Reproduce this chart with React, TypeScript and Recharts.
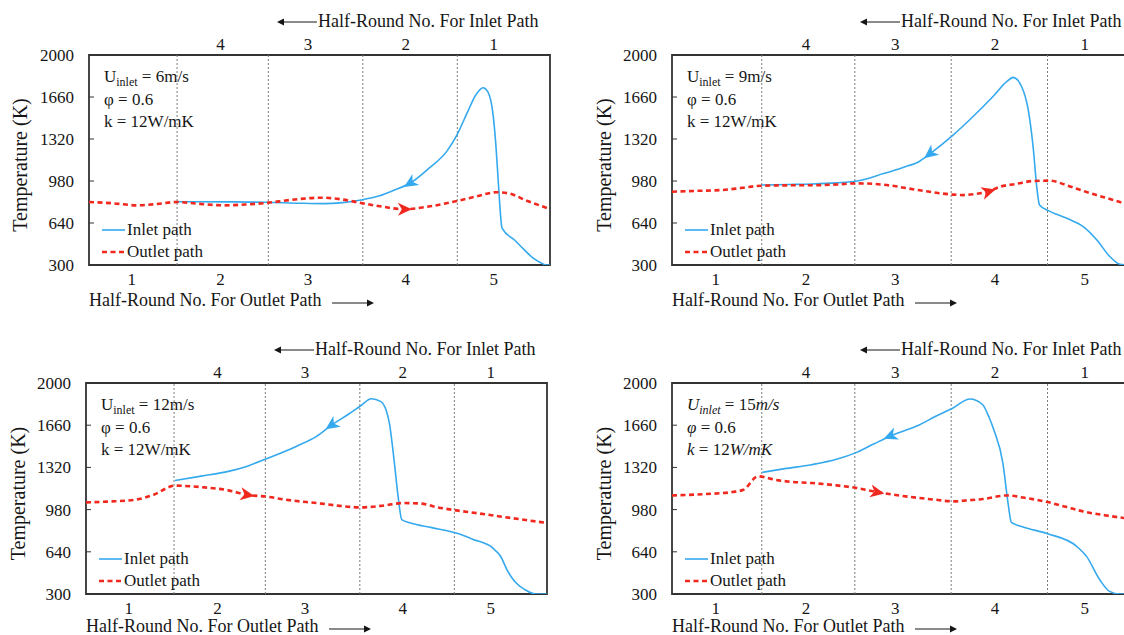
import React from 'react';
import { LineChart, Line, XAxis, YAxis, ReferenceLine, ReferenceArea, Legend } from 'recharts';

const FONT = "'Liberation Serif', 'Times New Roman', serif";
const BLUE = '#35a9ee';
const RED = '#f0281e';
const INK = '#161616';

// x is the position along the channel, 0..100 % of the plot width
const yTicks = [300, 640, 980, 1320, 1660, 2000];
const dividers = [19.1, 38.9, 59.4, 79.9];
const outletTicks = [9.3, 28.5, 47.5, 68.7, 87.8];
const outletLabels = ['1', '2', '3', '4', '5'];
const inletTicks = [28.5, 47.5, 68.7, 87.8];
const inletLabels = ['4', '3', '2', '1'];

// U = 6 m/s
const inlet6 = [
  [19.1, 812], [24, 812], [30, 811], [38.4, 808], [45.8, 800], [51, 797], [55, 805], [59, 826],
  [63, 860], [66, 903], [69.8, 966], [73.7, 1082], [77.6, 1220], [79.8, 1352], [82.2, 1545],
  [83.8, 1670], [85.5, 1735], [86.5, 1703], [87.7, 1501], [88.3, 1250], [88.8, 964], [89.6, 599],
  [92.3, 502], [94.5, 420], [96.3, 357], [98, 318], [99.3, 300], [100, 300],
];
const outlet6 = [
  [0, 810], [5, 800], [10.5, 783], [15, 795], [19.1, 810], [24, 795], [29, 783], [34, 790],
  [38.4, 802], [44, 828], [50.4, 845], [55, 830], [59, 802], [64, 770], [68.3, 751], [74, 775],
  [79.8, 818], [84, 855], [88.4, 889], [91, 880], [95, 820], [100, 753],
];

// U = 9 m/s
const inlet9 = [
  [19, 948], [25, 952], [29.7, 956], [35, 965], [39.4, 980], [45, 1040], [49, 1088], [52.7, 1140],
  [55, 1204], [59.8, 1352], [63.4, 1478], [68.4, 1668], [71.2, 1784], [72.6, 1819], [74.4, 1743],
  [75.8, 1555], [76.9, 1231], [77.6, 934], [78.2, 786], [80.1, 740], [84, 678], [87.5, 610],
  [90.4, 502], [93.2, 367], [95.3, 306], [97, 300], [100, 300],
];
const outlet9 = [
  [0, 893], [5, 900], [10.6, 907], [15, 925], [19, 942], [25, 945], [29.7, 945], [35, 952],
  [39.4, 961], [45, 950], [52.7, 905], [59.8, 870], [62, 866], [64.5, 875], [67.2, 893],
  [69.8, 934], [73, 955], [76.9, 980], [80.4, 983], [84, 945], [87.5, 900], [90, 870],
  [93.2, 834], [96.2, 800], [100, 775],
];

// U = 12 m/s
const inlet12 = [
  [19.3, 1215], [25, 1250], [30.9, 1288], [35, 1330], [39, 1388], [45.6, 1489], [50, 1570],
  [53.4, 1664], [57, 1750], [59.6, 1817], [61.9, 1873], [63.9, 1852], [65.2, 1770], [65.8, 1678],
  [66.9, 1355], [67.7, 1086], [68.5, 899], [70.4, 872], [75, 835], [80.3, 791], [84, 740],
  [88.2, 671], [90, 600], [91.3, 496], [93, 400], [95.2, 335], [97.5, 300], [100, 300],
];
const outlet12 = [
  [0, 1038], [5, 1045], [10.8, 1060], [14.7, 1100], [19.3, 1173], [24.7, 1162], [30.9, 1135],
  [34.8, 1100], [39, 1085], [43.3, 1060], [51.1, 1028], [55, 1010], [59.6, 998], [64, 1010],
  [68.9, 1033], [72.8, 1028], [76, 1000], [80.3, 974], [85, 950], [89.8, 925], [95, 898], [100, 872],
];

// U = 15 m/s
const inlet15 = [
  [19.2, 1280], [24, 1310], [29.7, 1342], [35, 1385], [39.3, 1441], [43, 1510], [46.6, 1575],
  [52.7, 1664], [56, 1730], [59.8, 1799], [63.4, 1871], [66.1, 1825], [67.5, 1720], [68.5, 1620],
  [70.4, 1355], [71.5, 1033], [72.2, 877], [74.7, 840], [79.9, 786], [86.1, 684], [88.2, 603],
  [91, 415], [93.1, 321], [95.3, 300], [100, 300],
];
const outlet15 = [
  [0, 1094], [7, 1105], [12.9, 1122], [15.2, 1140], [18.3, 1248], [22, 1220], [25, 1205],
  [29.7, 1194], [35, 1175], [39.3, 1154], [43.5, 1122], [48, 1095], [52.7, 1073], [56, 1060],
  [59.8, 1046], [63, 1055], [66.2, 1065], [71.2, 1094], [75, 1075], [79.9, 1041], [84, 1000],
  [87.5, 965], [92, 935], [96.2, 912], [100, 895],
];

type Pt = { pos: number; temp: number };
const toPts = (rows: number[][]): Pt[] => rows.map(([pos, temp]) => ({ pos, temp }));

const panels = [
  { left: 0, top: 0, yw: 89, pw: 461, ph: 210, titleDy: 41, inlet: inlet6, outlet: outlet6, inArrow: 69.8, outArrow: 68.3, speed: '6', italic: false },
  { left: 584, top: 0, yw: 88, pw: 470, ph: 210, titleDy: 41, inlet: inlet9, outlet: outlet9, inArrow: 55, outArrow: 67.2, speed: '9', italic: false },
  { left: -2, top: 328, yw: 88, pw: 461, ph: 211, titleDy: 38, inlet: inlet12, outlet: outlet12, inArrow: 53.4, outArrow: 34.8, speed: '12', italic: false },
  { left: 584, top: 328, yw: 88, pw: 470, ph: 211, titleDy: 38, inlet: inlet15, outlet: outlet15, inArrow: 46.6, outArrow: 43.5, speed: '15', italic: true },
];

const arrowDot = (data: Pt[], at: number, dir: number, color: string, pw: number, ph: number) => (props: any) => {
  const { cx, cy, index } = props;
  const p = data[index];
  if (!p || p.pos !== at || cx == null) return <g key={`d-${index}`} />;
  const a = data[Math.max(index - 1, 0)];
  const b = data[Math.min(index + 1, data.length - 1)];
  const dx = ((b.pos - a.pos) * pw) / 100 * dir;
  const dy = (-(b.temp - a.temp) * ph) / 1700 * dir;
  const ang = (Math.atan2(dy, dx) * 180) / Math.PI;
  return (
    <g key={`d-${index}`} transform={`translate(${cx},${cy}) rotate(${ang})`}>
      <path d="M8,0 L-6,-6.5 L-2,0 L-6,6.5 Z" fill={color} />
    </g>
  );
};

const Notes = ({ viewBox, speed, italic }: any) => {
  if (!viewBox) return null;
  const x = viewBox.x + 15;
  const y = viewBox.y + 27;
  const it = italic ? 'italic' : 'normal';
  return (
    <g fontFamily={FONT} fontSize={17} fill={INK}>
      <text x={x} y={y}>
        <tspan fontStyle={it}>U</tspan>
        <tspan fontSize={12} dy={4} fontStyle={it}>inlet</tspan>
        <tspan dy={-4}>{` = ${speed}`}</tspan>
        <tspan fontStyle={it}>m/s</tspan>
      </text>
      <text x={x} y={y + 22.5}>
        <tspan fontStyle={it}>φ</tspan>
        <tspan> = 0.6</tspan>
      </text>
      <text x={x} y={y + 45}>
        <tspan fontStyle={it}>k</tspan>
        <tspan> = 12</tspan>
        <tspan fontStyle={it}>W/mK</tspan>
      </text>
    </g>
  );
};

const BottomTitle = ({ viewBox, dy }: any) => {
  if (!viewBox) return null;
  const x = viewBox.x;
  const y = viewBox.y + dy;
  return (
    <g>
      <text x={x} y={y} fontFamily={FONT} fontSize={18} fill={INK}>Half-Round No. For Outlet Path</text>
      <line x1={x + 243} x2={x + 280} y1={y - 3} y2={y - 3} stroke={INK} strokeWidth={1.2} />
      <path d={`M${x + 285},${y - 3} l-7,-3.5 l0,7 z`} fill={INK} />
    </g>
  );
};

const TopTitle = ({ viewBox }: any) => {
  if (!viewBox) return null;
  const x = viewBox.x;
  const y = viewBox.y + 27;
  return (
    <g>
      <path d={`M${x + 188},${y - 5} l7,-3.5 l0,7 z`} fill={INK} />
      <line x1={x + 194} x2={x + 228} y1={y - 5} y2={y - 5} stroke={INK} strokeWidth={1.2} />
      <text x={x + 229} y={y} fontFamily={FONT} fontSize={18} fill={INK}>Half-Round No. For Inlet Path</text>
    </g>
  );
};

const YTitle = ({ viewBox }: any) => {
  if (!viewBox) return null;
  const x = viewBox.x + 20;
  const y = viewBox.y + viewBox.height / 2 + 5;
  return (
    <text x={x} y={y} transform={`rotate(-90,${x},${y})`} textAnchor="middle" dominantBaseline="central"
      fontFamily={FONT} fontSize={20} fill={INK}>
      Temperature (K)
    </text>
  );
};

const renderLegend = (props: any) => {
  const items = props.payload || [];
  return (
    <div style={{ fontFamily: FONT, fontSize: 17, color: INK, lineHeight: '22px' }}>
      {items.map((entry: any, i: number) => (
        <div key={i} style={{ display: 'flex', alignItems: 'center', whiteSpace: 'nowrap' }}>
          <svg width={23} height={10} style={{ marginRight: 2 }}>
            {i === 0 ? (
              <line x1={0} x2={23} y1={5} y2={5} stroke={BLUE} strokeWidth={1.6} />
            ) : (
              <line x1={0} x2={23} y1={5} y2={5} stroke={RED} strokeWidth={2.6} strokeDasharray="5 3.5" />
            )}
          </svg>
          <span>{entry.value}</span>
        </div>
      ))}
    </div>
  );
};

const tickStyle = { fill: INK, fontSize: 17, fontFamily: FONT };

const Panel = ({ cfg }: any) => {
  const { left, top, yw, pw, ph, speed, italic, titleDy } = cfg;
  const inlet = toPts(cfg.inlet);
  const outlet = toPts(cfg.outlet);
  const width = yw + pw + 11;
  const height = 55 + ph + 55;
  const tickLen = (5 * 100) / pw;
  return (
    <div style={{ position: 'absolute', left, top }}>
      <LineChart width={width} height={height} margin={{ top: 0, right: 11, bottom: 0, left: 0 }}>
        <XAxis xAxisId="b" dataKey="pos" type="number" domain={[0, 100]} allowDataOverflow ticks={outletTicks} interval={0}
          tickFormatter={(v: number) => outletLabels[outletTicks.indexOf(v)] ?? ''}
          height={55} axisLine={false} tickLine={false} tickSize={0} tickMargin={8} tick={tickStyle}
          label={{ content: (p: any) => <BottomTitle {...p} dy={titleDy} /> }} />
        <XAxis xAxisId="t" orientation="top" dataKey="pos" type="number" domain={[0, 100]} allowDataOverflow ticks={inletTicks} interval={0}
          tickFormatter={(v: number) => inletLabels[inletTicks.indexOf(v)] ?? ''}
          height={55} axisLine={false} tickLine={false} tickSize={0} tickMargin={5} tick={tickStyle}
          label={{ content: (p: any) => <TopTitle {...p} /> }} />
        <YAxis yAxisId="y" type="number" domain={[300, 2000]} allowDataOverflow ticks={yTicks} interval={0} width={yw}
          axisLine={false} tickLine={false} tickSize={0} tickMargin={15} tick={tickStyle}
          label={{ content: (p: any) => <YTitle {...p} /> }} />
        {dividers.map((d) => (
          <ReferenceLine key={d} xAxisId="b" yAxisId="y" x={d} stroke="#7a7a7a" strokeWidth={1} strokeDasharray="2 2" />
        ))}
        {yTicks.slice(1, -1).map((t) => (
          <ReferenceLine key={`t${t}`} xAxisId="b" yAxisId="y" stroke="#333" strokeWidth={1}
            segment={[{ x: 0, y: t }, { x: tickLen, y: t }]} />
        ))}
        <ReferenceArea xAxisId="b" yAxisId="y" x1={0} x2={100} y1={300} y2={2000} fill="none" fillOpacity={0}
          stroke="#333" strokeWidth={1.8}
          label={{ content: (p: any) => <Notes {...p} speed={speed} italic={italic} /> }} />
        <Legend layout="vertical" align="center" verticalAlign="middle" content={renderLegend}
          wrapperStyle={{ left: yw + 13, top: 55 + ph - 46, width: 'auto' }} />
        <Line xAxisId="t" yAxisId="y" data={inlet} dataKey="temp" name="Inlet path" type="monotone"
          stroke={BLUE} strokeWidth={1.6} isAnimationActive={false} activeDot={false}
          dot={arrowDot(inlet, cfg.inArrow, -1, BLUE, pw, ph)} />
        <Line xAxisId="b" yAxisId="y" data={outlet} dataKey="temp" name="Outlet path" type="monotone"
          stroke={RED} strokeWidth={2.6} strokeDasharray="5 3.5" isAnimationActive={false} activeDot={false}
          dot={arrowDot(outlet, cfg.outArrow, 1, RED, pw, ph)} />
      </LineChart>
    </div>
  );
};

export default function App() {
  return (
    <div style={{ position: 'absolute', left: 0, top: 0, width: 1124, height: 635, overflow: 'hidden', background: '#fff', fontFamily: FONT }}>
      {panels.map((cfg, i) => (
        <Panel key={i} cfg={cfg} />
      ))}
    </div>
  );
}
